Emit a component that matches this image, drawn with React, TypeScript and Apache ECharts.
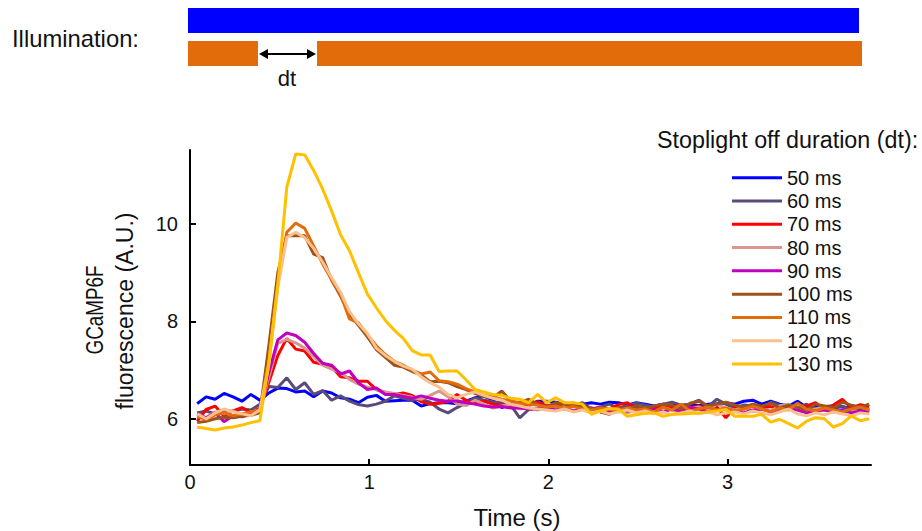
import React, { useEffect, useRef } from "react";
import * as echarts from "echarts";

const FONT = "Liberation Sans, Arial, sans-serif";

const times = [
  0.04, 0.09, 0.14, 0.19, 0.24, 0.29, 0.34, 0.39, 0.44, 0.49,
  0.54, 0.59, 0.64, 0.69, 0.74, 0.79, 0.84, 0.89, 0.94, 0.99,
  1.04, 1.09, 1.14, 1.19, 1.24, 1.29, 1.34, 1.39, 1.44, 1.49,
  1.54, 1.59, 1.64, 1.69, 1.74, 1.79, 1.84, 1.89, 1.94, 1.99,
  2.04, 2.09, 2.14, 2.19, 2.24, 2.29, 2.34, 2.39, 2.44, 2.49,
  2.54, 2.59, 2.64, 2.69, 2.74, 2.79, 2.84, 2.89, 2.94, 2.99,
  3.04, 3.09, 3.14, 3.19, 3.24, 3.29, 3.34, 3.39, 3.44, 3.49,
  3.54, 3.59, 3.64, 3.69, 3.74, 3.79,
];

const ms50 = [
  6.31, 6.45, 6.40, 6.52, 6.45, 6.36, 6.50, 6.38, 6.53, 6.63,
  6.62, 6.55, 6.57, 6.45, 6.57, 6.53, 6.43, 6.40, 6.33, 6.44,
  6.48, 6.36, 6.37, 6.38, 6.38, 6.26, 6.31, 6.33, 6.33, 6.31,
  6.36, 6.43, 6.47, 6.38, 6.23, 6.30, 6.30, 6.28, 6.36, 6.36,
  6.34, 6.30, 6.32, 6.30, 6.33, 6.30, 6.34, 6.33, 6.28, 6.33,
  6.30, 6.26, 6.30, 6.28, 6.26, 6.29, 6.27, 6.30, 6.31, 6.33,
  6.30, 6.36, 6.38, 6.30, 6.36, 6.30, 6.26, 6.36, 6.23, 6.26,
  6.25, 6.26, 6.24, 6.22, 6.20, 6.16,
];
const ms60 = [
  6.12, 6.16, 6.10, 6.18, 6.15, 6.20, 6.18, 6.30, 6.66, 6.64,
  6.84, 6.60, 6.74, 6.50, 6.58, 6.38, 6.47, 6.36, 6.29, 6.26,
  6.30, 6.36, 6.47, 6.42, 6.38, 6.40, 6.34, 6.20, 6.12, 6.23,
  6.32, 6.43, 6.38, 6.35, 6.33, 6.28, 6.02, 6.19, 6.22, 6.26,
  6.30, 6.22, 6.28, 6.33, 6.20, 6.24, 6.30, 6.22, 6.26, 6.32,
  6.28, 6.24, 6.30, 6.34, 6.28, 6.30, 6.38, 6.25, 6.40, 6.30,
  6.22, 6.28, 6.26, 6.20, 6.34, 6.28, 6.24, 6.22, 6.30, 6.18,
  6.22, 6.20, 6.26, 6.18, 6.22, 6.20,
];
const ms70 = [
  5.95, 6.19, 6.26, 6.05, 6.16, 6.23, 6.12, 6.22, 6.75, 7.30,
  7.65, 7.43, 7.39, 7.16, 7.12, 7.07, 6.86, 6.84, 6.77, 6.77,
  6.60, 6.53, 6.50, 6.53, 6.48, 6.35, 6.30, 6.32, 6.36, 6.50,
  6.38, 6.33, 6.36, 6.30, 6.28, 6.26, 6.27, 6.28, 6.35, 6.26,
  6.26, 6.32, 6.26, 6.24, 6.20, 6.22, 6.20, 6.29, 6.33, 6.22,
  6.20, 6.22, 6.26, 6.24, 6.28, 6.22, 6.26, 6.20, 6.24, 6.02,
  6.24, 6.20, 6.26, 6.22, 6.25, 6.20, 6.24, 6.22, 6.26, 6.33,
  6.19, 6.28, 6.40, 6.22, 6.29, 6.25,
];
const ms80 = [
  6.08, 6.02, 6.14, 6.10, 6.16, 6.08, 6.14, 6.18, 6.85, 7.55,
  7.63, 7.56, 7.45, 7.28, 7.10, 7.02, 6.95, 6.81, 6.71, 6.65,
  6.60, 6.55, 6.52, 6.48, 6.44, 6.40, 6.48, 6.57, 6.45, 6.30,
  6.27, 6.38, 6.30, 6.22, 6.26, 6.30, 6.20, 6.24, 6.18, 6.22,
  6.18, 6.24, 6.16, 6.20, 6.22, 6.14, 6.20, 6.16, 6.12, 6.18,
  6.20, 6.15, 6.22, 6.18, 6.12, 6.20, 6.24, 6.16, 6.30, 6.22,
  6.18, 6.24, 6.14, 6.20, 6.16, 6.26, 6.30, 6.20, 6.14, 6.20,
  6.24, 6.16, 6.10, 6.18, 6.14, 6.20,
];
const ms90 = [
  6.10, 6.02, 6.12, 5.94, 6.06, 6.04, 6.10, 6.15, 6.95, 7.62,
  7.76, 7.71, 7.57, 7.34, 7.14, 7.10, 6.92, 6.98, 6.74, 6.60,
  6.63, 6.50, 6.50, 6.46, 6.42, 6.47, 6.42, 6.38, 6.36, 6.37,
  6.33, 6.30, 6.26, 6.24, 6.25, 6.22, 6.22, 6.20, 6.20, 6.22,
  6.18, 6.20, 6.16, 6.20, 6.22, 6.18, 6.14, 6.20, 6.16, 6.18,
  6.22, 6.18, 6.14, 6.20, 6.16, 6.22, 6.20, 6.14, 6.18, 6.20,
  6.16, 6.12, 6.18, 6.20, 6.14, 6.16, 6.20, 6.18, 6.12, 6.16,
  6.18, 6.14, 6.18, 6.12, 6.16, 6.14,
];
const ms100 = [
  5.92, 5.95, 6.00, 6.03, 6.02, 6.05, 6.07, 6.12, 7.50, 9.00,
  9.76, 9.76, 9.76, 9.38, 9.31, 8.85, 8.52, 8.15, 7.92, 7.68,
  7.42, 7.26, 7.10, 7.06, 6.97, 6.90, 6.76, 6.77, 6.74, 6.66,
  6.60, 6.52, 6.45, 6.43, 6.57, 6.36, 6.33, 6.40, 6.30, 6.23,
  6.33, 6.30, 6.28, 6.25, 6.21, 6.14, 6.09, 6.23, 6.20, 6.26,
  6.22, 6.26, 6.30, 6.28, 6.20, 6.32, 6.36, 6.26, 6.30, 6.34,
  6.28, 6.24, 6.30, 6.26, 6.32, 6.22, 6.28, 6.24, 6.18, 6.30,
  6.26, 6.22, 6.34, 6.28, 6.24, 6.30,
];
const ms110 = [
  6.05, 5.98, 6.08, 6.12, 6.06, 6.10, 6.14, 6.18, 7.20, 8.80,
  9.83, 10.02, 9.91, 9.55, 9.18, 8.86, 8.55, 8.05, 7.97, 7.72,
  7.50, 7.32, 7.18, 7.10, 7.00, 6.92, 6.96, 6.78, 6.76, 6.71,
  6.62, 6.55, 6.48, 6.45, 6.40, 6.36, 6.32, 6.30, 6.28, 6.24,
  6.26, 6.22, 6.25, 6.20, 6.18, 6.22, 6.20, 6.16, 6.22, 6.18,
  6.20, 6.14, 6.24, 6.18, 6.30, 6.16, 6.20, 6.24, 6.18, 6.22,
  6.16, 6.20, 6.26, 6.20, 6.14, 6.22, 6.18, 6.32, 6.20, 6.16,
  6.22, 6.18, 6.14, 6.20, 6.24, 6.18,
];
const ms120 = [
  6.10, 6.00, 6.12, 6.20, 6.14, 6.10, 6.06, 6.18, 7.10, 8.70,
  9.72, 9.83, 9.72, 9.50, 9.22, 8.90, 8.60, 8.20, 7.95, 7.75,
  7.45, 7.30, 7.18, 7.08, 7.02, 6.86, 6.74, 6.65, 6.50, 6.43,
  6.50, 6.55, 6.48, 6.42, 6.38, 6.30, 6.26, 6.22, 6.20, 6.18,
  6.16, 6.20, 6.14, 6.18, 6.12, 6.16, 6.10, 6.14, 6.18, 6.12,
  6.16, 6.10, 6.14, 6.08, 6.12, 6.16, 6.10, 6.14, 6.08, 6.12,
  6.14, 6.10, 6.16, 6.12, 6.08, 6.14, 6.20, 6.10, 6.06, 6.12,
  6.08, 6.14, 6.10, 6.06, 6.12, 6.10,
];
const ms130 = [
  5.83, 5.80, 5.77, 5.81, 5.83, 5.87, 5.92, 5.96, 7.15, 8.75,
  10.75, 11.44, 11.42, 11.10, 10.72, 10.27, 9.78, 9.45, 9.00, 8.56,
  8.28, 8.02, 7.82, 7.65, 7.40, 7.31, 7.31, 6.97, 6.98, 6.98,
  6.80, 6.60, 6.55, 6.50, 6.48, 6.42, 6.40, 6.33, 6.50, 6.33,
  6.43, 6.33, 6.33, 6.30, 6.09, 6.16, 6.21, 6.20, 6.05, 6.08,
  6.11, 6.12, 6.05, 6.09, 6.10, 6.11, 6.12, 6.14, 6.16, 6.19,
  6.05, 6.05, 6.05, 6.09, 5.93, 5.99, 5.90, 5.81, 5.95, 6.02,
  6.00, 5.83, 5.90, 6.06, 5.96, 6.00,
];

const seriesNames = ["50 ms", "60 ms", "70 ms", "80 ms", "90 ms", "100 ms", "110 ms", "120 ms", "130 ms"];
const seriesValues = [ms50, ms60, ms70, ms80, ms90, ms100, ms110, ms120, ms130];
const seriesColors = ["#0000FF", "#5B4B7B", "#FF0000", "#D8968F", "#BF00BF", "#9C5218", "#E36C0A", "#FAC090", "#FFC000"];

const yTicks = [6, 8, 10];
const xTicks = [0, 1, 2, 3];

export default function App() {
  const ref = useRef<HTMLDivElement>(null);
  useEffect(() => {
    if (!ref.current) return;
    const chart = echarts.init(ref.current, null, { renderer: "svg" });
    const textColor = "#111";
    const option: any = {
      animation: false,
      backgroundColor: "#ffffff",
      grid: { left: 190, right: 51, top: 150, bottom: 66, containLabel: false },
      xAxis: {
        type: "value",
        min: 0,
        max: 3.8,
        splitLine: { show: false },
        axisLine: { show: true, lineStyle: { color: "#000", width: 2 } },
        axisTick: { show: true, inside: true, length: 6, lineStyle: { color: "#000", width: 2 }, customValues: xTicks },
        axisLabel: { customValues: xTicks, fontSize: 20, fontFamily: FONT, color: textColor, margin: 7 },
      },
      yAxis: {
        type: "value",
        min: 5.05,
        max: 11.52,
        splitLine: { show: false },
        axisLine: { show: true, lineStyle: { color: "#000", width: 2 } },
        axisTick: { show: true, inside: true, length: 6, lineStyle: { color: "#000", width: 2 }, customValues: yTicks },
        axisLabel: { customValues: yTicks, fontSize: 20, fontFamily: FONT, color: textColor, margin: 12 },
      },
      legend: {
        orient: "vertical",
        left: 732,
        top: 166,
        padding: 0,
        icon: "rect",
        itemWidth: 50,
        itemHeight: 3,
        itemGap: 0,
        data: seriesNames,
        textStyle: { fontSize: 20, fontFamily: FONT, color: textColor, lineHeight: 23.3 },
      },
      series: seriesNames.map((name, i) => ({
        name,
        type: "line",
        data: times.map((t, k) => [t, seriesValues[i][k]]),
        showSymbol: false,
        symbol: "none",
        color: seriesColors[i],
        lineStyle: { width: 3, color: seriesColors[i] },
        itemStyle: { color: seriesColors[i] },
        z: 2 + i,
      })),
      graphic: [
        { type: "rect", shape: { x: 188, y: 8, width: 671, height: 25 }, style: { fill: "#0000FF" } },
        { type: "rect", shape: { x: 188, y: 41, width: 70, height: 25 }, style: { fill: "#E36C0A" } },
        { type: "rect", shape: { x: 317, y: 41, width: 545, height: 25 }, style: { fill: "#E36C0A" } },
        { type: "line", shape: { x1: 264, y1: 54, x2: 311, y2: 54 }, style: { stroke: "#000", lineWidth: 2 } },
        { type: "polygon", shape: { points: [[259, 54], [268, 49], [268, 59]] }, style: { fill: "#000" } },
        { type: "polygon", shape: { points: [[316, 54], [307, 49], [307, 59]] }, style: { fill: "#000" } },
        { type: "text", x: 287, y: 78, style: { text: "dt", fontSize: 22, fontFamily: FONT, fill: textColor, textAlign: "center", textVerticalAlign: "middle" } },
        { type: "text", x: 12, y: 38, style: { text: "Illumination:", fontSize: 23.8, fontFamily: FONT, fill: textColor, textAlign: "left", textVerticalAlign: "middle" } },
        { type: "text", x: 657, y: 140, style: { text: "Stoplight off duration (dt):", fontSize: 23.3, fontFamily: FONT, fill: textColor, textAlign: "left", textVerticalAlign: "middle" } },
        { type: "text", x: 517, y: 517, style: { text: "Time (s)", fontSize: 24, fontFamily: FONT, fill: textColor, textAlign: "center", textVerticalAlign: "middle" } },
        { type: "text", x: 95, y: 310, rotation: Math.PI / 2, scaleX: 0.82, style: { text: "GCaMP6F", fontSize: 23, fontFamily: FONT, fill: textColor, textAlign: "center", textVerticalAlign: "middle" } },
        { type: "text", x: 125, y: 311, rotation: Math.PI / 2, style: { text: "fluorescence (A.U.)", fontSize: 23, fontFamily: FONT, fill: textColor, textAlign: "center", textVerticalAlign: "middle" } },
      ],
    };
    chart.setOption(option);
    return () => chart.dispose();
  }, []);
  return <div ref={ref} style={{ position: "fixed", left: 0, top: 0, width: 922, height: 531, background: "#fff" }} />;
}
